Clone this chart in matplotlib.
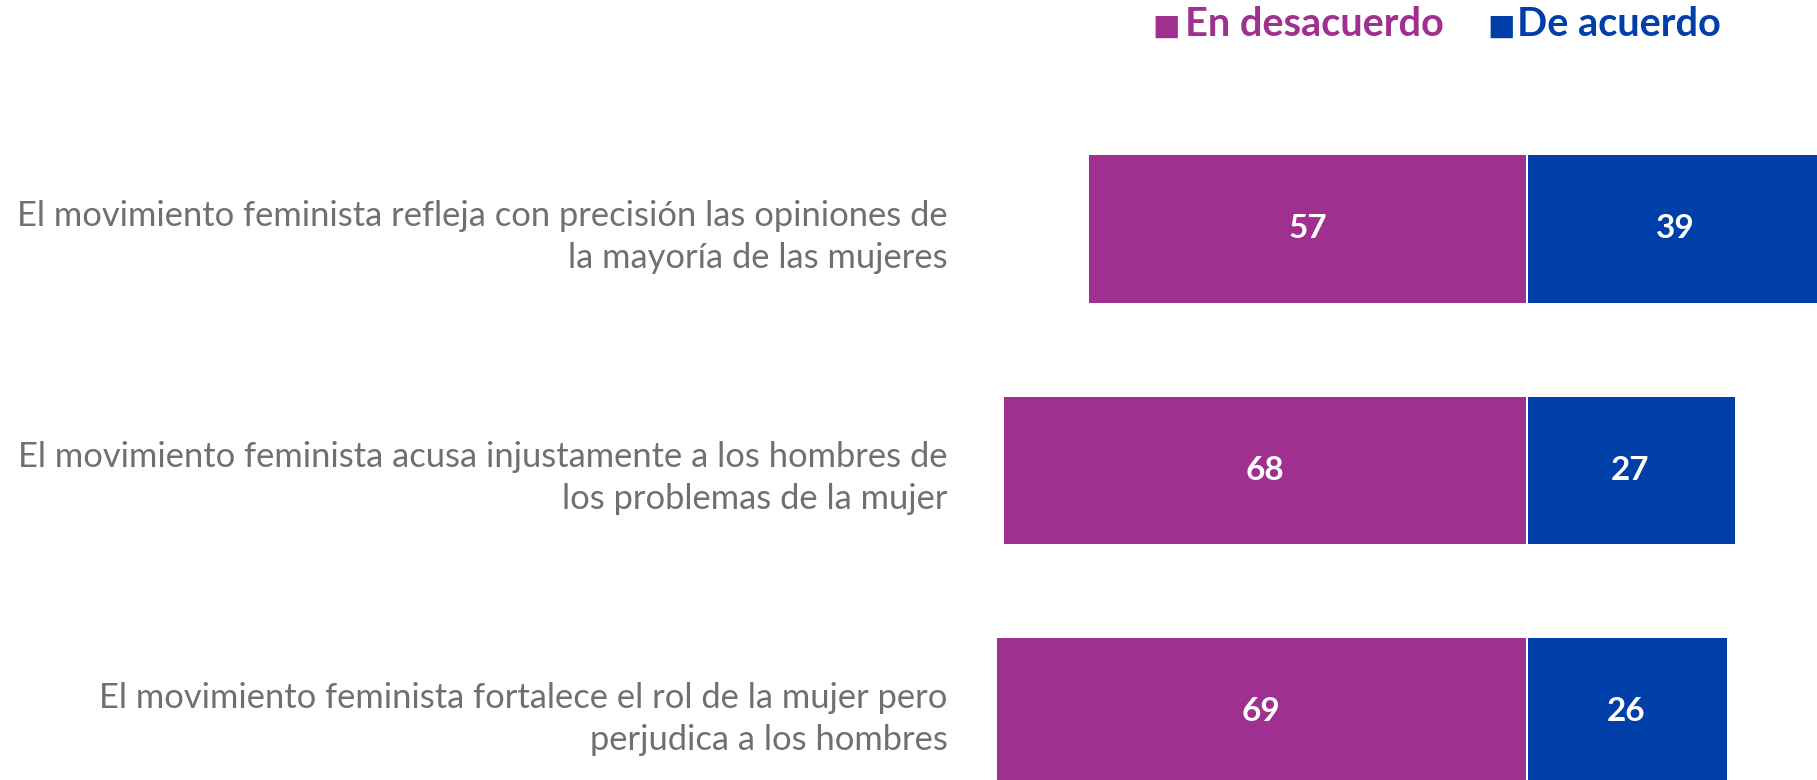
import matplotlib.pyplot as plt

plt.rcParams['font.family'] = ['Lato', 'DejaVu Sans']

categorias = [
    'El movimiento feminista refleja con precisión las opiniones de\nla mayoría de las mujeres',
    'El movimiento feminista acusa injustamente a los hombres de\nlos problemas de la mujer',
    'El movimiento feminista fortalece el rol de la mujer pero\nperjudica a los hombres',
]
en_desacuerdo = [57, 68, 69]
de_acuerdo = [39, 27, 26]

morado = '#A0308F'
azul = '#003FA8'

fig = plt.figure(figsize=(18.17, 7.8), dpi=100)
# axes spans pixels 974..1817 horizontally, full height
ax = fig.add_axes([974 / 1817, 0, 1 - 974 / 1817, 1])

y = list(range(len(categorias)))
ax.barh(y, [-v for v in en_desacuerdo], height=0.61, color=morado)
ax.barh(y, de_acuerdo, height=0.61, color=azul, left=0.25)

for i in y:
    ax.text(-en_desacuerdo[i] / 2, i, str(en_desacuerdo[i]), ha='center', va='center',
            color='white', fontsize=24, fontweight='bold')
    ax.text(de_acuerdo[i] / 2, i, str(de_acuerdo[i]), ha='center', va='center',
            color='white', fontsize=24, fontweight='bold')

ax.set_xlim(-(1526 - 974) / 7.67, (1817 - 1526) / 7.67)
ax.set_ylim(2.286, -0.95)
ax.set_yticks(y)
ax.set_yticklabels(categorias, fontsize=24.8, color='#707070', linespacing=1.4)
ax.tick_params(axis='y', length=0, pad=19)
ax.set_xticks([])
for s in ax.spines.values():
    s.set_visible(False)

# leyenda
fig.text(1152 / 1817, 1 - 27 / 780, '■', color=morado, fontsize=21, va='center', family='DejaVu Sans')
fig.text(1185 / 1817, 1 - 25 / 780, 'En desacuerdo', color=morado, fontsize=28.5, fontweight='bold', va='center')
fig.text(1487 / 1817, 1 - 27 / 780, '■', color=azul, fontsize=21, va='center', family='DejaVu Sans')
fig.text(1517 / 1817, 1 - 25 / 780, 'De acuerdo', color=azul, fontsize=28.5, fontweight='bold', va='center')

plt.savefig('out.png', dpi=100)
